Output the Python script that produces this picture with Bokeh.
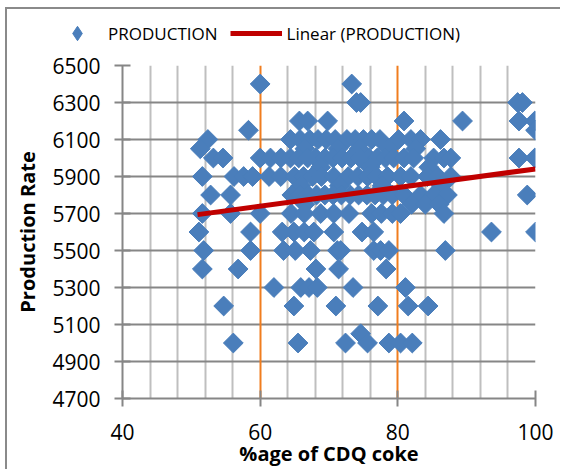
import numpy as np
from bokeh.plotting import figure
from bokeh.layouts import column
from bokeh.models import Range1d, FixedTicker, Grid, Legend, LegendItem
from bokeh.embed import file_html
from bokeh.resources import INLINE

# %age of CDQ coke (x) and production rate (y)
coke_pct = [
    60.0, 73.3,
    74.0, 74.6, 97.4, 98.1,
    65.7, 66.9, 69.8, 80.9, 89.4, 97.6, 99.9,
    58.3, 100.0,
    52.4, 64.4, 65.8, 67.2, 68.4, 69.6, 70.9, 72.6, 73.8, 75.0, 76.2, 77.4, 80.1, 81.9, 83.3, 86.2,
    51.3, 66.5, 71.3, 74.4, 78.6, 82.6,
    53.2, 54.6, 60.0, 61.5, 63.0, 64.4, 65.6, 66.9, 68.1, 69.4, 70.6, 71.9, 73.2, 74.5, 75.8, 77.0,
    78.2, 79.4, 80.9, 82.3, 85.2, 86.7, 87.7, 97.6, 99.9,
    68.8, 76.0, 84.5,
    51.6, 56.2, 57.6, 58.9, 61.3, 63.0, 65.0, 66.3, 67.6, 68.9, 70.7, 72.8, 74.2, 75.6, 76.9, 78.5,
    80.4, 81.9, 84.3, 85.8, 87.7,
    65.9, 71.5, 77.7, 86.3,
    52.8, 55.7, 64.6, 65.8, 67.0, 68.2, 69.4, 70.6, 71.8, 73.1, 74.3, 75.5, 76.7, 77.9, 79.2, 80.9,
    83.3, 85.2, 87.2, 98.8,
    66.5, 82.0, 84.0, 86.0,
    51.6, 55.7, 60.0, 64.5, 66.4, 68.8, 70.7, 72.9, 76.2, 77.6, 79.2, 80.4, 86.7,
    51.1, 58.6, 63.2, 64.9, 66.4, 67.8, 70.7, 74.8, 76.5, 93.6, 100.0,
    51.8, 58.6, 63.4, 65.1, 67.3, 71.2, 71.7, 76.5, 77.5, 78.7, 86.9,
    51.6, 56.8, 68.1, 71.4, 78.3,
    62.0, 65.9, 67.1, 68.3, 73.5, 81.1,
    54.7, 64.9, 71.0, 77.1, 81.5, 84.4,
    74.6,
    56.1, 65.5, 72.4, 75.6, 78.7, 80.4, 82.1,
]
production = (
    [6400] * 2 + [6300] * 4 + [6200] * 7 + [6150] * 2 + [6100] * 16 + [6050] * 6
    + [6000] * 25 + [5950] * 3 + [5900] * 21 + [5850] * 4 + [5800] * 20 + [5750] * 4
    + [5700] * 13 + [5600] * 11 + [5500] * 11 + [5400] * 5 + [5300] * 6 + [5200] * 6
    + [5050] * 1 + [5000] * 7
)

# linear trend line end points
trend_x = [50.9, 100.0]
trend_y = [5694, 5941]

x_major_ticks = [40, 60, 80, 100]
x_minor_grid = [44, 48, 52, 56, 64, 68, 72, 76, 84, 88, 92, 96]
y_ticks = [4700, 4900, 5100, 5300, 5500, 5700, 5900, 6100, 6300, 6500]

FONT = "Open Sans"
GRAY = "#868686"
BLUE = "#4A7EBB"
RED = "#C00000"

# ---- legend strip (separate small figure so the legend is not clipped) ----
lf = figure(width=553, height=43, x_range=Range1d(0, 1), y_range=Range1d(0, 1),
            x_axis_type=None, y_axis_type=None, output_backend="svg",
            toolbar_location=None, min_border=0)
lf.outline_line_color = None
# same data as the chart; it falls outside this strip's ranges, only its legend swatch shows
lsc = lf.scatter(coke_pct, production, marker="diamond", size=14, fill_color=BLUE, line_color=BLUE)
lln = lf.line(trend_x, trend_y, line_color=RED, line_width=5)
legend = Legend(items=[LegendItem(label="PRODUCTION", renderers=[lsc]),
                       LegendItem(label="Linear (PRODUCTION)", renderers=[lln])],
                orientation="horizontal", location=(44, 1),
                glyph_width=52, glyph_height=36, label_standoff=5, spacing=12,
                padding=0, margin=0, border_line_color=None, background_fill_alpha=0,
                label_text_font=FONT, label_text_font_size="17px", label_text_color="#000000")
lf.add_layout(legend)

# ---- main chart ----
p = figure(width=553, height=417, x_range=Range1d(40, 100), y_range=Range1d(4700, 6500),
           output_backend="svg", toolbar_location=None,
           min_border_left=115, min_border_right=25, min_border_top=13, min_border_bottom=71)
p.outline_line_color = None

for fig in (lf, p):
    if "frame_align" in fig.properties():
        fig.frame_align = False

p.xgrid.ticker = FixedTicker(ticks=x_minor_grid)
p.xgrid.grid_line_color = "#BFBFBF"
p.xgrid.grid_line_width = 2
p.add_layout(Grid(dimension=0, ticker=FixedTicker(ticks=[60, 80, 100]),
                  grid_line_color="#F07D1E", grid_line_width=2))
p.ygrid.ticker = FixedTicker(ticks=y_ticks)
p.ygrid.grid_line_color = GRAY
p.ygrid.grid_line_width = 2

for ax in (p.xaxis[0], p.yaxis[0]):
    ax.axis_line_color = GRAY
    ax.axis_line_width = 2
    ax.major_tick_line_color = GRAY
    ax.major_tick_line_width = 2
    ax.major_tick_in = 8
    ax.major_tick_out = 8
    ax.minor_tick_line_color = None
    ax.major_label_text_font = FONT
    ax.major_label_text_font_size = "21px"
    ax.major_label_text_color = "#000000"
    ax.axis_label_text_font = FONT
    ax.axis_label_text_font_size = "20px"
    ax.axis_label_text_font_style = "bold"
    ax.axis_label_text_color = "#000000"

p.xaxis.ticker = FixedTicker(ticks=x_major_ticks)
p.yaxis.ticker = FixedTicker(ticks=y_ticks)
p.xaxis.axis_label = "%age of CDQ coke"
p.yaxis.axis_label = "Production Rate"
p.xaxis.major_label_standoff = 17
p.xaxis.axis_label_standoff = -3
p.yaxis.major_label_standoff = 14
p.yaxis.axis_label_standoff = 8

p.scatter(coke_pct, production, marker="square", angle=np.pi / 4, size=14,
          fill_color=BLUE, line_color=BLUE, line_width=1)
p.line(trend_x, trend_y, line_color=RED, line_width=5)

layout = column(lf, p, spacing=0,
                styles={"border-left": "2px solid #8a8a8a", "border-top": "2px solid #8a8a8a",
                        "margin-left": "5px", "margin-top": "7px"})

open("out.html", "w").write(file_html(layout, INLINE))
